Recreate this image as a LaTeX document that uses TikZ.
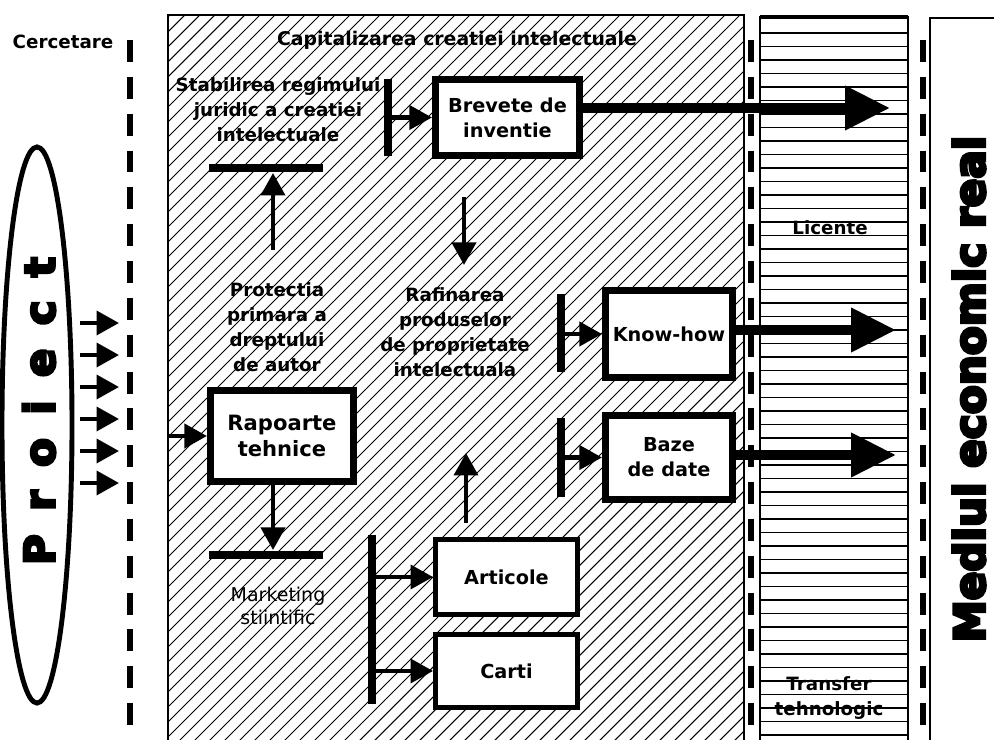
\documentclass[tikz,border=0pt]{standalone}
\usepackage{fontspec}
\setmainfont{DejaVu Sans}
\newfontfamily\heavyfont{DejaVu Sans Bold}[FakeBold=7]
\newfontfamily\spacedfont{DejaVu Sans Bold}[FakeBold=6, LetterSpace=55]
\usetikzlibrary{arrows.meta,shapes.geometric}

\tikzset{
  lbl/.style={font=\bfseries\fontsize{13}{17.7}\selectfont, align=center, inner sep=0},
  reg/.style={font=\fontsize{13.5}{16.5}\selectfont, align=center, inner sep=0},
  box/.style={draw, line width=5pt, fill=white, inner sep=0, align=center,
              font=\bfseries\fontsize{13.7}{17.7}\selectfont},
  thinbox/.style={box, line width=3.5pt},
  bar/.style={line width=5.7pt},
  midarrow/.style={line width=2.9pt, -{Triangle[length=16pt,width=17pt]}},
  bigarrow/.style={line width=7pt, -{Triangle[length=32pt,width=30pt]}},
  dashline/.style={line width=3.8pt, dash pattern=on 15.6pt off 10.6pt},
  hatchline/.style={line width=0.75pt},
  rule/.style={line width=1pt},
  frame/.style={line width=1.8pt}
}

\begin{document}
\begin{tikzpicture}[x=0.025cm, y=-0.025cm]
\useasboundingbox (0,0) rectangle (994,740);

% hatched zone: capitalisation of intellectual work
\begin{scope}
  \clip (168,15) rectangle (744,745);
  \foreach \a in {-800,-785,...,760} \draw[hatchline] (\a,760) -- (\a+800,-40);
\end{scope}
\draw[frame] (168,745) -- (168,15) -- (744,15) -- (744,745);

% ruled zone: licences / technology transfer
\foreach \k in {0,...,52} \draw[rule] (760,33+13.5*\k) -- (908,33+13.5*\k);
\draw[frame] (760,745) -- (760,17) -- (908,17) -- (908,745);
\draw[line width=3pt] (760,17) -- (908,17);

% real economy zone
\draw[frame] (930,745) -- (930,18) -- (1000,18);

% dashed boundaries
\coordinate (d1t) at (130,40);  \coordinate (d1b) at (130,745);
\coordinate (d2t) at (751,40);  \coordinate (d2b) at (751,745);
\coordinate (d3t) at (923,40);  \coordinate (d3b) at (923,745);
\draw[dashline] (d1t) -- (d1b);
\draw[dashline] (d2t) -- (d2b);
\draw[dashline] (d3t) -- (d3b);

% project ellipse
\node[draw, ellipse, line width=3.5pt, inner sep=0,
      minimum width=1.75cm, minimum height=13.9cm] (projEll) at (37,425) {};
\node[rotate=90, inner sep=0, font=\spacedfont\fontsize{30}{34}\selectfont] (proi) at (39,411) {Proiect};

\node[rotate=90, inner sep=0, font=\heavyfont\fontsize{30}{36}\selectfont] (mediu) at (969,389) {Mediul economic real};

% labels
\node[lbl] (cerc) at (63,42) {Cercetare};
\node[lbl, font=\bfseries\fontsize{13.4}{17.7}\selectfont] (capit) at (457,40) {Capitalizarea creatiei intelectuale};
\node[lbl] (stab) at (278,110) {Stabilirea regimului\\juridic a creatiei\\intelectuale};
\node[lbl] (prot) at (277,327) {Protectia\\primara a\\dreptului\\de autor};
\node[lbl] (rafin) at (455,332) {Rafinarea\\produselor\\de proprietate\\intelectuala};
\node[reg] (mkt) at (278,606) {Marketing\\stiintific};
\node[lbl] (lic) at (830,228) {Licente};
\node[lbl] (trans) at (829,698) {Transfer\\tehnologic};

% boxes
\node[box, minimum width=3.6cm, minimum height=1.9cm] (brev) at (507.5,117.5) {Brevete de\\inventie};
\node[box, minimum width=3.175cm, minimum height=2.175cm] (know) at (669,334) {Know-how};
\node[box, minimum width=3.175cm, minimum height=2.1cm] (baze) at (669,457.5) {Baze\\de date};
\node[box, minimum width=3.575cm, minimum height=2.275cm,
      font=\bfseries\fontsize{15}{19}\selectfont] (rap) at (282,436) {Rapoarte\\tehnice};
\node[thinbox, minimum width=3.55cm, minimum height=1.875cm] (art) at (506.5,577) {Articole};
\node[thinbox, minimum width=3.55cm, minimum height=1.825cm] (carti) at (506.5,671) {Carti};

% bars
\coordinate (stabL) at (209,168);  \coordinate (stabR) at (323,168);
\coordinate (brevT) at (388,79);   \coordinate (brevB) at (388,156);
\coordinate (knowT) at (561,294);  \coordinate (knowB) at (561,372);
\coordinate (bazeT) at (561,418);  \coordinate (bazeB) at (561,497);
\coordinate (botL) at (209,555);   \coordinate (botR) at (323,555);
\coordinate (pubT) at (372,535);   \coordinate (pubB) at (372,704);
\draw[bar] (stabL) -- (stabR);
\draw[bar] (brevT) -- (brevB);
\draw[bar] (knowT) -- (knowB);
\draw[bar] (bazeT) -- (bazeB);
\draw[bar] (botL) -- (botR);
\draw[bar] (pubT) -- (pubB);

% inputs from the project
\foreach \i/\yy in {1/323,2/355,3/387,4/419,5/451,6/483}{
  \coordinate (in\i) at (80,\yy);
  \coordinate (out\i) at (119,\yy);
  \draw[midarrow] (in\i) -- (out\i);
}

% internal flows
\coordinate (rapIn) at (167,436);
\draw[midarrow] (rapIn) -- (rap.west);

\coordinate (protTop) at (273,250);
\coordinate (stabUnder) at (273,173);
\draw[midarrow] (protTop) -- (stabUnder);

\coordinate (brevBar) at (388,117.5);
\draw[midarrow] (brevBar) -- (brev.west);

\coordinate (downTop) at (464,197);
\coordinate (downTip) at (464,265);
\draw[midarrow] (downTop) -- (downTip);

\coordinate (knowBar) at (561,334);
\draw[midarrow] (knowBar) -- (know.west);
\coordinate (bazeBar) at (561,457.5);
\draw[midarrow] (bazeBar) -- (baze.west);

\coordinate (upBot) at (466,523);
\coordinate (upTip) at (466,453);
\draw[midarrow] (upBot) -- (upTip);

\coordinate (botTip) at (273,550);
\draw[midarrow] (rap.south -| botTip) -- (botTip);

\coordinate (artBar) at (372,577);
\draw[midarrow] (artBar) -- (art.west);
\coordinate (cartiBar) at (372,671);
\draw[midarrow] (cartiBar) -- (carti.west);

% flows to the real economy
\coordinate (brevTip) at (890,108);
\coordinate (knowTip) at (896,330);
\coordinate (bazeTip) at (896,455);
\draw[bigarrow] (brev.east |- brevTip) -- (brevTip);
\draw[bigarrow] (know.east |- knowTip) -- (knowTip);
\draw[bigarrow] (baze.east |- bazeTip) -- (bazeTip);
\end{tikzpicture}
\end{document}
